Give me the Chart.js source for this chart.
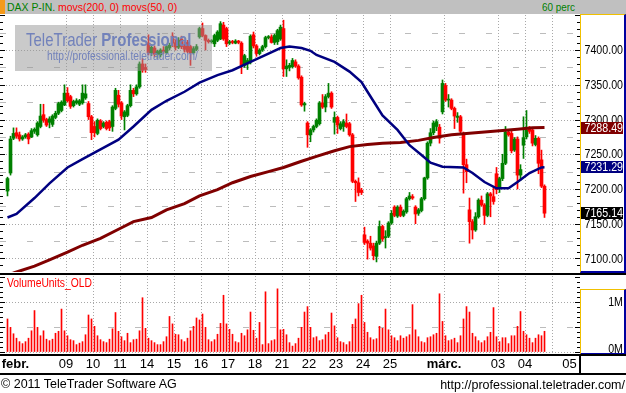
<!DOCTYPE html>
<html>
<head>
<meta charset="utf-8">
<script src="https://cdn.jsdelivr.net/npm/chart.js@4.4.1/dist/chart.umd.min.js"></script>
<style>
  html, body { margin:0; padding:0; background:#fff; }
  #wrap { position:relative; width:626px; height:393px; overflow:hidden; background:#fff; font-family:"Liberation Sans", Arial, sans-serif; }
  .abs { position:absolute; }
  .cond { transform-origin:0 0; }
  #titlebar { left:0; top:0; width:626px; height:14px; background:#c0c0c0; }
  #orange { left:0; top:0; width:5px; height:14px; background:#f59a1a; }
  #title { left:7px; top:0; font-size:11px; line-height:14px; white-space:nowrap; transform:scaleX(0.95); }
  #perc { left:542px; top:0; font-size:11px; line-height:14px; color:#008000; white-space:nowrap; transform:scaleX(0.9); }
  #cPrice { left:0; top:0; }
  #cVol { left:0; top:275px; }
  #sep1 { left:0; top:273px; width:626px; height:2px; background:#000; }
  #sep2 { left:0; top:354px; width:626px; height:2px; background:#000; }
  #sep3 { left:0; top:373px; width:626px; height:2px; background:#000; }
  #vsep { left:579px; top:355px; width:2px; height:19px; background:#000; }
  #pbox { left:580px; top:14px; width:43px; height:256px; border-left:1px solid #f0c000; border-top:1px solid #f0c000; border-right:2px solid #0000a0; border-bottom:2px solid #0000a0; }
  #vbox { left:580px; top:289px; width:43px; height:63px; border-left:1px solid #f0c000; border-top:1px solid #f0c000; border-right:2px solid #0000a0; border-bottom:2px solid #0000a0; }
  #wm { left:15px; top:25px; width:197px; height:46px; background:rgba(150,150,150,0.5); }
  #wm1 { left:26px; top:30px; font-size:19px; line-height:20px; color:#7282bb; white-space:nowrap; transform:scaleX(0.79); }
  #wm2 { left:47px; top:48px; font-size:13px; line-height:16px; color:#7282bb; white-space:nowrap; transform:scaleX(0.785); }
  #vlab { left:7px; top:276px; font-size:12px; line-height:14px; color:#ff0000; white-space:nowrap; transform:scaleX(0.86); }
  #copy { left:1px; top:376px; font-size:12.5px; line-height:16px; color:#000; white-space:nowrap; }
  #url { right:1px; top:377px; font-size:12.5px; line-height:16px; color:#000; white-space:nowrap; }
</style>
</head>
<body>
<div id="wrap">
  <canvas id="cPrice" class="abs" width="626" height="273"></canvas>
  <canvas id="cVol" class="abs" width="626" height="100"></canvas>
  <div id="titlebar" class="abs"></div>
  <div id="orange" class="abs"></div>
  <div id="title" class="abs cond"><span style="color:#008000">DAX P-IN.</span> <span style="color:#ff0000">movs(200, 0) movs(50, 0)</span></div>
  <div id="perc" class="abs cond">60 perc</div>
  <div id="wm" class="abs"></div>
  <div id="wm1" class="abs cond">TeleTrader <b>Professional</b></div>
  <div id="wm2" class="abs cond">http://professional.teletrader.com/</div>
  <div id="pbox" class="abs"></div>
  <div id="vbox" class="abs"></div>
  <div id="sep1" class="abs"></div>
  <div id="sep2" class="abs"></div>
  <div id="sep3" class="abs"></div>
  <div id="vsep" class="abs"></div>
  <div id="vlab" class="abs cond">VolumeUnits_OLD</div>
  <div id="copy" class="abs">© 2011 TeleTrader Software AG</div>
  <div id="url" class="abs">http://professional.teletrader.com/</div>
</div>
<script>
// ---------- data (hourly candles, DAX P-IN.) ----------
const open = [7197,7223,7273,7281,7278,7272,7275,7279,7275,7283,
7278,7290,7307,7300,7296,7293,7303,7309,7313,7321,
7338,7333,7320,7324,7322,7324,7331,7323,7304,7290,
7280,7298,7290,7296,7297,7290,7316,7335,7324,7304,
7306,7320,7342,7337,7347,7380,7375,7410,7396,7403,
7394,7393,7400,7396,7403,7420,7410,7404,7416,7406,
7411,7405,7396,7401,7419,7431,7421,7414,7412,7409,
7414,7416,7436,7431,7410,7412,7410,7413,7410,7378,
7380,7383,7422,7406,7395,7400,7405,7418,7419,7411,
7412,7416,7431,7373,7375,7376,7383,7377,7361,7321,
7295,7278,7285,7290,7294,7324,7318,7333,7338,7296,
7303,7287,7290,7295,7294,7278,7211,7209,7198,7134,
7125,7122,7118,7103,7122,7146,7130,7132,7151,7174,
7161,7174,7162,7167,7186,7189,7174,7165,7169,7186,
7216,7266,7281,7290,7289,7311,7349,7328,7328,7316,
7303,7304,7278,7235,7170,7153,7141,7160,7184,7177,
7162,7193,7189,7222,7201,7215,7237,7282,7280,7256,
7272,7220,7263,7275,7286,7285,7264,7273,7242,7204];
const high = [7217,7276,7288,7288,7282,7277,7280,7281,7287,7288,
7297,7322,7322,7302,7304,7307,7312,7325,7327,7350,
7346,7335,7328,7330,7329,7350,7350,7326,7306,7297,
7301,7300,7297,7298,7299,7320,7345,7342,7326,7313,
7322,7350,7345,7350,7383,7388,7380,7422,7408,7406,
7400,7402,7405,7408,7410,7425,7415,7418,7420,7412,
7414,7407,7405,7408,7433,7439,7422,7416,7415,7423,
7428,7441,7440,7433,7414,7414,7415,7414,7412,7394,
7388,7422,7426,7408,7402,7407,7420,7421,7422,7423,
7430,7436,7443,7386,7381,7388,7386,7379,7363,7325,
7297,7287,7292,7301,7326,7336,7336,7352,7340,7311,
7305,7297,7300,7308,7296,7280,7213,7216,7201,7145,
7127,7132,7122,7125,7154,7148,7140,7153,7169,7176,
7176,7177,7170,7188,7195,7192,7176,7172,7188,7217,
7268,7287,7298,7300,7293,7357,7352,7336,7330,7318,
7310,7306,7282,7243,7187,7156,7166,7186,7190,7179,
7195,7195,7204,7231,7217,7250,7290,7284,7283,7274,
7275,7235,7304,7313,7290,7288,7277,7275,7256,7206];
const low = [7190,7220,7271,7273,7269,7270,7273,7265,7274,7280,
7276,7288,7296,7290,7288,7290,7301,7307,7311,7320,
7325,7316,7318,7322,7320,7322,7329,7300,7271,7275,
7278,7285,7288,7285,7284,7283,7314,7318,7300,7285,
7304,7318,7333,7335,7345,7368,7368,7393,7392,7390,
7388,7390,7395,7394,7400,7405,7400,7402,7402,7397,
7396,7378,7394,7399,7417,7419,7400,7410,7410,7405,
7412,7415,7414,7405,7408,7409,7409,7409,7366,7375,
7372,7380,7403,7391,7393,7398,7403,7416,7410,7408,
7408,7414,7362,7362,7370,7374,7375,7358,7319,7312,
7260,7268,7282,7288,7292,7316,7311,7331,7316,7279,
7280,7285,7283,7288,7276,7209,7182,7190,7192,7120,
7099,7112,7098,7095,7120,7125,7115,7130,7149,7160,
7159,7160,7160,7165,7184,7185,7150,7162,7167,7184,
7214,7262,7278,7284,7266,7308,7326,7318,7314,7287,
7296,7280,7194,7209,7122,7128,7139,7158,7175,7149,
7160,7160,7178,7193,7195,7212,7235,7276,7252,7254,
7200,7212,7244,7272,7280,7262,7262,7222,7202,7159];
const close = [7215,7272,7280,7276,7272,7275,7278,7272,7284,7286,
7295,7305,7299,7292,7301,7305,7309,7323,7325,7338,
7327,7319,7326,7327,7327,7338,7337,7304,7281,7281,
7299,7287,7295,7287,7288,7318,7342,7322,7305,7311,
7320,7342,7337,7347,7380,7371,7372,7396,7404,7394,
7398,7400,7398,7405,7407,7410,7404,7414,7405,7401,
7398,7396,7402,7405,7431,7421,7414,7412,7413,7421,
7426,7438,7416,7409,7412,7411,7413,7411,7378,7392,
7385,7420,7406,7395,7400,7405,7418,7419,7411,7421,
7428,7433,7373,7377,7378,7385,7377,7360,7321,7323,
7278,7285,7290,7299,7324,7318,7333,7338,7318,7303,
7292,7294,7297,7290,7278,7211,7209,7195,7195,7123,
7122,7115,7104,7122,7146,7128,7131,7151,7165,7162,
7174,7162,7168,7186,7190,7187,7164,7170,7186,7216,
7266,7281,7295,7297,7273,7352,7328,7329,7316,7305,
7305,7283,7235,7225,7153,7141,7160,7184,7177,7162,
7193,7190,7182,7199,7215,7237,7282,7278,7255,7272,
7220,7228,7274,7285,7283,7266,7273,7237,7204,7165.14];
// volume per candle, millions
const volume = [0.66,0.49,0.36,0.27,0.20,0.16,0.20,0.27,0.42,0.83,
0.49,0.32,0.42,0.25,0.22,0.25,0.37,0.41,0.86,0.42,
0.32,0.24,0.22,0.14,0.17,0.20,0.34,0.74,0.66,0.51,
0.32,0.24,0.20,0.18,0.25,0.46,0.79,0.41,0.30,0.22,
0.37,0.18,0.24,0.25,0.42,1.09,0.47,0.27,0.22,0.18,
0.14,0.14,0.20,0.30,0.71,0.56,0.35,0.34,0.24,0.20,
0.27,0.42,0.51,0.68,0.64,0.76,0.49,0.24,0.20,0.24,
0.35,0.57,1.14,0.56,0.45,0.35,0.20,0.18,0.37,0.32,
0.44,0.80,0.43,0.27,0.59,0.14,1.21,0.16,0.22,0.24,
1.27,0.44,0.45,0.34,0.18,0.11,0.16,0.27,0.49,0.80,
0.91,0.49,0.28,0.30,0.22,0.24,0.34,0.39,0.78,0.52,
0.28,0.20,0.18,0.14,0.20,0.55,0.66,0.97,1.14,0.59,
0.39,0.28,0.24,0.26,0.51,0.47,0.86,0.44,0.32,0.28,
0.22,0.32,0.27,0.30,0.34,0.95,0.44,0.30,0.20,0.18,
0.28,0.30,0.34,0.37,1.17,0.61,0.32,0.22,0.24,0.27,
0.18,0.32,0.66,0.91,0.80,0.37,0.30,0.22,0.18,0.22,
0.30,0.39,0.89,0.30,0.20,0.28,0.28,0.16,0.32,0.32,
0.51,0.81,0.41,0.34,0.27,0.18,0.27,0.34,0.32,0.41];
// moving averages (candle index -> value)
const ma50Idx = [0,3,9,14,20,25,31,37,42,48,53,59,64,70,75,81,87,91,94,98,101,103,109,114,118,120,125,130,134,138,141,145,152,155,159,163,167,170,174,178,179];
const ma50Val = [7159,7164,7187,7208,7231,7243,7257,7271,7290,7314,7327,7340,7353,7364,7371,7383,7395,7403,7405,7403,7399,7393,7383,7369,7354,7340,7306,7285,7263,7249,7238,7232,7231,7223,7210,7201,7201,7210,7223,7231,7231.29];
const ma200Idx = [0,2,9,14,20,25,31,37,42,48,53,59,64,70,75,81,87,92,98,103,109,114,120,125,131,137,142,148,153,159,164,170,175,179];
const ma200Val = [7077,7079,7089,7098,7109,7119,7129,7142,7153,7159,7170,7179,7190,7199,7209,7218,7225,7231,7240,7247,7255,7261,7264,7266,7267,7270,7274,7278,7280,7282,7284,7286,7288,7288.49];
// day axis: first candle index of each labelled trading day
const dayLabels   = ['febr.','09','10','11','14','15','16','17','18','21','22','23','24','25','márc.','03','04','05'];
const dayStartIdx = [2,20,29,38,47,56,65,74,83,92,101,110,119,128,146,164,173,182];
const priceTicks = [7100,7150,7200,7250,7300,7350,7400];
const volTicks = [0,1];

// ---------- styling / helpers ----------
const GREEN = '#008000', RED = '#ff0000';
const TXT = '"Liberation Sans", Arial, sans-serif';
const AX_SX = 0.82;               // narrow axis font
const X_MIN = -2.5, X_MAX = 190.8333;
const candleColors = close.map((c, i) => c >= open[i] ? GREEN : RED);

// tick table: gridline at each day start; first / last label sit off their gridline
const tickInfo = new Map();
dayStartIdx.forEach((i, k) => {
  const edge = (k === 0 || k === dayStartIdx.length - 1);
  tickInfo.set(i - 0.5, { label: edge ? '' : dayLabels[k], grid: k > 0 });
});
tickInfo.set(2.67, { label: dayLabels[0], grid: false });
tickInfo.set(187.33, { label: dayLabels[dayLabels.length - 1], grid: false });

function setDayTicks(scale) {
  scale.ticks = [...tickInfo.keys()].map(v => ({ value: v }));
}
const tickLabel = v => (tickInfo.get(v) || { label: '' }).label;
const gridColor = c => (c.tick && tickInfo.get(c.tick.value) && tickInfo.get(c.tick.value).grid) ? '#a8a8a8' : 'rgba(0,0,0,0)';

function hLine(ctx, x0, x1, y) { ctx.beginPath(); ctx.moveTo(x0, y); ctx.lineTo(x1, y); ctx.stroke(); }
function narrowText(ctx, text, xRight, y, baseline) {
  ctx.save();
  ctx.translate(xRight, y);
  ctx.scale(AX_SX, 1);
  ctx.textAlign = 'right';
  ctx.textBaseline = baseline;
  ctx.fillText(text, 0, 0);
  ctx.restore();
}

const priceDeco = {
  id: 'priceDeco',
  beforeDatasetsDraw(chart) {
    const { ctx, chartArea: a, scales: { y } } = chart;
    ctx.save();
    ctx.lineWidth = 1;
    ctx.strokeStyle = '#a8a8a8';
    ctx.setLineDash([1, 2]);
    priceTicks.forEach(v => hLine(ctx, a.left, a.right, Math.round(y.getPixelForValue(v)) + 0.5));
    ctx.strokeStyle = '#bcbcbc';
    ctx.setLineDash([6, 21]);
    [priceTicks[0] - 25, ...priceTicks.map(v => v + 25)].forEach(v => {
      if (v > y.min && v < y.max) hLine(ctx, a.left, a.right, Math.round(y.getPixelForValue(v)) + 0.5);
    });
    ctx.restore();
  },
  afterDraw(chart) {
    const { ctx, chartArea: a, scales: { y } } = chart;
    ctx.save();
    ctx.strokeStyle = '#000'; ctx.lineWidth = 1;
    for (let v = Math.ceil(y.min / 10) * 10; v <= y.max; v += 10) {
      const p = Math.round(y.getPixelForValue(v)) + 0.5;
      const len = v % 50 === 0 ? 5 : 3;
      hLine(ctx, a.right - len, a.right, p);
      hLine(ctx, a.left, a.left + len, p);
    }
    ctx.font = '13px ' + TXT;
    ctx.fillStyle = '#000';
    priceTicks.forEach(v => narrowText(ctx, v.toFixed(2), a.right + 43, y.getPixelForValue(v) + 0.5, 'middle'));
    const boxes = [
      { v: ma200Val[ma200Val.length - 1], bg: '#800000' },
      { v: ma50Val[ma50Val.length - 1], bg: '#000080' },
      { v: close[close.length - 1], bg: '#000000' }
    ];
    boxes.forEach(b => {
      const p = Math.round(y.getPixelForValue(b.v));
      ctx.fillStyle = b.bg;
      ctx.fillRect(a.right + 1, p - 6, 42, 12);
      ctx.fillStyle = '#fff';
      narrowText(ctx, b.v.toFixed(2), a.right + 43, p + 0.5, 'middle');
    });
    ctx.restore();
  }
};

const volDeco = {
  id: 'volDeco',
  beforeDatasetsDraw(chart) {
    const { ctx, chartArea: a, scales: { y } } = chart;
    ctx.save();
    ctx.lineWidth = 1;
    ctx.strokeStyle = '#a8a8a8';
    ctx.setLineDash([1, 2]);
    volTicks.forEach(v => hLine(ctx, a.left, a.right, Math.round(y.getPixelForValue(v)) + 0.5));
    ctx.strokeStyle = '#bcbcbc';
    ctx.setLineDash([6, 21]);
    hLine(ctx, a.left, a.right, Math.round(y.getPixelForValue((volTicks[0] + volTicks[1]) / 2)) + 0.5);
    ctx.restore();
  },
  afterDraw(chart) {
    const { ctx, chartArea: a, scales: { y } } = chart;
    ctx.save();
    ctx.strokeStyle = '#000'; ctx.lineWidth = 1;
    for (let k = 0; k * 0.1 <= y.max; k++) {
      const p = Math.round(y.getPixelForValue(k * 0.1)) + 0.5;
      const len = k % 5 === 0 ? 5 : 3;
      hLine(ctx, a.right - len, a.right, p);
      hLine(ctx, a.left, a.left + len, p);
    }
    ctx.fillStyle = '#000';
    ctx.font = '13px ' + TXT;
    volTicks.forEach(v => {
      const p = y.getPixelForValue(v);
      if (v === 0) narrowText(ctx, v + 'M', a.right + 43, p + 1, 'alphabetic');
      else narrowText(ctx, v + 'M', a.right + 43, p + 0.5, 'middle');
    });
    ctx.restore();
  }
};

Chart.defaults.font.family = TXT;

new Chart(document.getElementById('cPrice'), {
  type: 'bar',
  data: {
    datasets: [
      { type: 'line', label: 'movs(50, 0)', data: ma50Idx.map((x, k) => ({ x, y: ma50Val[k] })),
        borderColor: '#000080', borderWidth: 2.5, pointRadius: 0, tension: 0, order: 0 },
      { type: 'line', label: 'movs(200, 0)', data: ma200Idx.map((x, k) => ({ x, y: ma200Val[k] })),
        borderColor: '#800000', borderWidth: 3, pointRadius: 0, tension: 0, order: 0 },
      { label: 'body', data: open.map((o, i) => ({ x: i, y: [o, close[i]] })),
        backgroundColor: candleColors, barThickness: 3, minBarLength: 1, grouped: false, order: 1 },
      { label: 'wick', data: low.map((l, i) => ({ x: i, y: [l, high[i]] })),
        backgroundColor: candleColors, barThickness: 1, grouped: false, order: 2 }
    ]
  },
  options: {
    responsive: false, animation: false, devicePixelRatio: 1,
    layout: { padding: { top: 15, bottom: 1, left: 0, right: 0 } },
    plugins: { legend: { display: false }, tooltip: { enabled: false } },
    scales: {
      x: {
        type: 'linear', min: X_MIN, max: X_MAX, offset: false,
        afterBuildTicks: setDayTicks,
        afterFit: s => { s.height = 0; },
        ticks: { display: false, callback: v => tickLabel(v) },
        grid: { color: gridColor, drawTicks: false, offset: false },
        border: { display: false, dash: [1, 2] }
      },
      y: {
        type: 'linear', position: 'right', min: 7080.5, max: 7450.5,
        afterBuildTicks: s => { s.ticks = priceTicks.map(v => ({ value: v })); },
        afterFit: s => { s.width = 46; },
        ticks: { display: false },
        grid: { display: false, drawTicks: false },
        border: { display: false }
      }
    }
  },
  plugins: [priceDeco]
});

new Chart(document.getElementById('cVol'), {
  type: 'bar',
  data: {
    datasets: [
      { label: 'VolumeUnits_OLD', data: volume.map((v, i) => ({ x: i, y: v })),
        backgroundColor: RED, barThickness: 1, grouped: false }
    ]
  },
  options: {
    responsive: false, animation: false, devicePixelRatio: 1,
    layout: { padding: { top: 1, bottom: 0, left: 0, right: 0 } },
    plugins: { legend: { display: false }, tooltip: { enabled: false } },
    scales: {
      x: {
        type: 'linear', min: X_MIN, max: X_MAX, offset: false,
        afterBuildTicks: setDayTicks,
        afterFit: s => { s.height = 22; },
        ticks: { callback: v => tickLabel(v), autoSkip: false, maxRotation: 0, padding: 4, color: '#000',
                 font: c => ({ family: TXT, size: 13,
                               weight: (c.tick && /[a-z]/.test(c.tick.label)) ? 'bold' : 'normal' }) },
        grid: { color: gridColor, drawTicks: false, offset: false },
        border: { display: false, dash: [1, 2] }
      },
      y: {
        type: 'linear', position: 'right', min: -0.03, max: 1.53,
        afterFit: s => { s.width = 46; },
        ticks: { display: false },
        grid: { display: false, drawTicks: false },
        border: { display: false }
      }
    }
  },
  plugins: [volDeco]
});
</script>
</body>
</html>
